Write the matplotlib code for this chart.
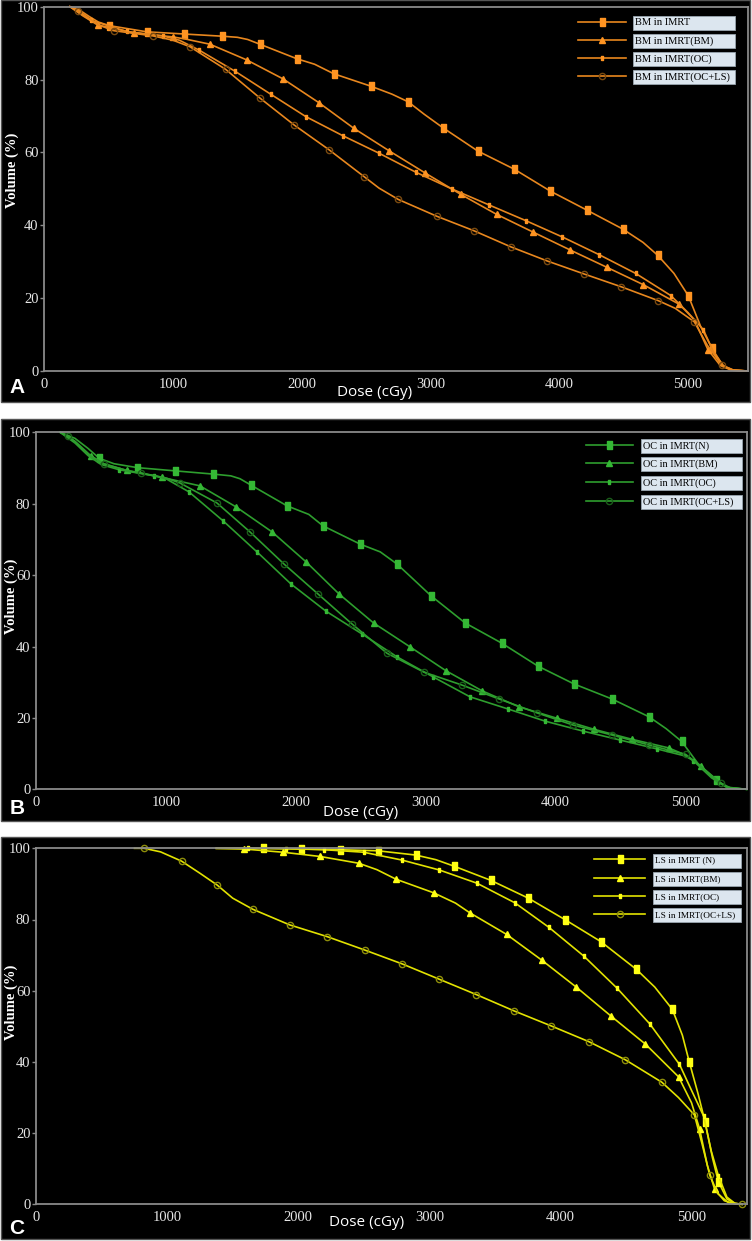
import matplotlib
matplotlib.use("Agg")
import matplotlib.pyplot as plt
from matplotlib.patches import Rectangle

W, H = 752, 1241

# ---------------- data (dose cGy, volume %) ----------------
# Panel A : bone marrow (BM)
A_N_dose = [200, 265, 350, 420, 506, 798, 1088, 1383, 1500, 1580, 1675, 1963, 2100, 2248, 2535, 2700, 2826, 2950, 3095, 3366, 3650, 3929, 4212, 4491, 4650, 4763, 4890, 5001, 5100, 5186, 5270, 5350, 5460]
A_N_vol = [100, 99.3, 97.3, 95.8, 94.8, 93.1, 92.5, 91.9, 91.6, 91.0, 89.7, 85.7, 84.2, 81.6, 78.2, 76.0, 73.9, 70.5, 66.8, 60.4, 55.4, 49.4, 44.2, 39.0, 35.3, 31.8, 26.8, 20.7, 12.0, 6.2, 1.5, 0.3, 0]
A_BM_dose = [200, 300, 414, 700, 1000, 1100, 1287, 1572, 1854, 2131, 2405, 2680, 2956, 3234, 3513, 3798, 4085, 4367, 4652, 4932, 5050, 5153, 5250, 5330, 5460]
A_BM_vol = [100, 97.5, 95.0, 92.8, 91.7, 91.1, 89.7, 85.4, 80.2, 73.7, 66.6, 60.4, 54.4, 48.5, 43.0, 38.1, 33.2, 28.5, 23.7, 18.3, 14.0, 5.9, 1.5, 0.3, 0]
A_OC_dose = [200, 360, 640, 920, 1050, 1202, 1481, 1758, 2033, 2318, 2599, 2884, 3164, 3453, 3738, 4023, 4311, 4592, 4866, 5000, 5119, 5200, 5280, 5350, 5460]
A_OC_vol = [100, 96.3, 93.2, 92.0, 90.8, 88.1, 82.3, 76.0, 69.8, 64.6, 59.8, 54.6, 50.0, 45.6, 41.3, 36.8, 31.9, 26.8, 20.7, 16.0, 11.3, 5.0, 1.2, 0.2, 0]
A_OCLS_dose = [200, 265, 350, 420, 542, 842, 1000, 1132, 1409, 1676, 1942, 2213, 2486, 2600, 2749, 3047, 3337, 3622, 3906, 4195, 4482, 4769, 4900, 5048, 5150, 5261, 5350, 5460]
A_OCLS_vol = [100, 98.9, 96.8, 95.0, 93.4, 92.0, 90.8, 89.0, 82.8, 74.9, 67.5, 60.7, 53.3, 50.2, 47.1, 42.5, 38.5, 34.1, 30.2, 26.6, 23.1, 19.3, 17.2, 13.5, 7.0, 1.6, 0.2, 0]

# Panel B : oral cavity (OC)
B_N_dose = [185, 300, 400, 488, 600, 780, 1070, 1363, 1500, 1570, 1655, 1932, 2100, 2209, 2494, 2650, 2779, 2900, 3041, 3303, 3587, 3864, 4142, 4434, 4719, 4850, 4970, 5100, 5237, 5320, 5470]
B_N_vol = [100, 98.3, 95.5, 92.7, 91.2, 90.1, 89.2, 88.3, 87.8, 87.0, 85.2, 79.4, 77.0, 73.8, 68.7, 66.5, 63.1, 59.0, 54.2, 46.6, 40.9, 34.5, 29.5, 25.3, 20.3, 17.0, 13.4, 7.0, 2.6, 0.6, 0]
B_BM_dose = [185, 300, 420, 520, 700, 967, 1262, 1540, 1817, 2079, 2333, 2598, 2879, 3156, 3433, 3718, 4010, 4296, 4588, 4870, 5000, 5120, 5230, 5320, 5470]
B_BM_vol = [100, 97.5, 93.5, 91.2, 89.3, 87.4, 85.0, 79.1, 72.1, 63.7, 54.7, 46.6, 39.9, 33.2, 27.6, 23.1, 19.9, 16.8, 14.0, 11.6, 9.6, 6.5, 2.5, 0.5, 0]
B_OC_dose = [185, 300, 400, 500, 640, 910, 1000, 1178, 1440, 1701, 1963, 2232, 2510, 2779, 3056, 3341, 3633, 3918, 4211, 4496, 4781, 5000, 5060, 5200, 5320, 5470]
B_OC_vol = [100, 97.0, 93.5, 91.0, 89.5, 87.8, 87.0, 83.3, 75.2, 66.5, 57.5, 49.9, 43.5, 37.1, 31.5, 25.9, 22.5, 19.1, 16.3, 13.8, 11.3, 9.3, 8.0, 3.2, 0.5, 0]
B_OCLS_dose = [185, 250, 300, 400, 520, 700, 810, 1000, 1108, 1393, 1647, 1909, 2171, 2433, 2702, 2987, 3279, 3564, 3857, 4134, 4434, 4719, 5000, 5100, 5270, 5350, 5470]
B_OCLS_vol = [100, 99.0, 97.3, 93.8, 91.2, 89.3, 88.6, 87.2, 85.8, 80.2, 72.1, 63.1, 54.7, 46.3, 38.1, 32.8, 29.2, 25.3, 21.4, 18.0, 15.2, 12.4, 9.8, 7.0, 1.8, 0.3, 0]

# Panel C : lumbosacral spine (LS)
C_N_dose = [1375, 1733, 2022, 2315, 2608, 2897, 3050, 3187, 3469, 3755, 4033, 4308, 4579, 4720, 4853, 4930, 4982, 5050, 5103, 5160, 5205, 5270, 5330, 5385]
C_N_vol = [100, 100, 99.8, 99.6, 99.3, 98.1, 96.8, 95.0, 91.0, 86.0, 80.0, 73.8, 66.0, 61.0, 54.8, 47.5, 40.1, 31.0, 23.2, 13.0, 6.3, 1.5, 0.2, 0]
C_BM_dose = [1375, 1586, 1883, 2168, 2462, 2600, 2747, 3033, 3200, 3308, 3590, 3857, 4121, 4385, 4648, 4901, 5000, 5062, 5120, 5176, 5250, 5330, 5385]
C_BM_vol = [100, 99.8, 98.9, 97.7, 95.8, 94.0, 91.3, 87.5, 84.6, 81.9, 75.8, 68.6, 61.0, 52.9, 45.0, 35.8, 28.5, 21.1, 11.0, 4.2, 1.0, 0.1, 0]
C_OC_dose = [1375, 1619, 1910, 2200, 2498, 2791, 3077, 3363, 3652, 3912, 4176, 4432, 4681, 4908, 5000, 5092, 5150, 5205, 5270, 5330, 5385]
C_OC_vol = [100, 100, 99.9, 99.6, 98.9, 96.7, 93.9, 90.2, 84.7, 77.8, 69.8, 60.7, 50.7, 39.3, 32.0, 24.8, 15.0, 8.0, 2.0, 0.3, 0]
C_OCLS_dose = [751, 824, 950, 1110, 1250, 1381, 1500, 1652, 1934, 2220, 2509, 2795, 3077, 3359, 3648, 3930, 4216, 4495, 4773, 4900, 5022, 5080, 5139, 5200, 5280, 5385]
C_OCLS_vol = [100, 100, 99.0, 96.4, 93.0, 89.7, 86.0, 82.9, 78.5, 75.2, 71.4, 67.5, 63.2, 58.9, 54.3, 50.1, 45.7, 40.6, 34.3, 30.0, 25.1, 17.0, 8.2, 3.0, 0.5, 0]

A_labels = ["BM in IMRT", "BM in IMRT(BM)", "BM in IMRT(OC)", "BM in IMRT(OC+LS)"]
B_labels = ["OC in IMRT(N)", "OC in IMRT(BM)", "OC in IMRT(OC)", "OC in IMRT(OC+LS)"]
C_labels = ["LS in IMRT (N)", "LS in IMRT(BM)", "LS in IMRT(OC)", "LS in IMRT(OC+LS)"]

x_ticks = [0, 1000, 2000, 3000, 4000, 5000]
y_ticks = [0, 20, 40, 60, 80, 100]
panel_letters = ["A", "B", "C"]

# ---------------- style / layout ----------------
SQ = [(-0.3, -0.5), (0.3, -0.5), (0.3, 0.5), (-0.3, 0.5), (-0.3, -0.5)]
BAR = [(-0.2, -0.5), (0.2, -0.5), (0.2, 0.5), (-0.2, 0.5), (-0.2, -0.5)]

panels = [
    dict(series=[(A_N_dose, A_N_vol, [4, 5, 6, 7, 10, 11, 13, 14, 16, 18, 19, 20, 21, 22, 23, 25, 27, 29]),
                 (A_BM_dose, A_BM_vol, [2, 3, 4, 6, 7, 8, 9, 10, 11, 12, 13, 14, 15, 16, 17, 18, 19, 21]),
                 (A_OC_dose, A_OC_vol, [1, 2, 3, 5, 6, 7, 8, 9, 10, 11, 12, 13, 14, 15, 16, 17, 18, 20]),
                 (A_OCLS_dose, A_OCLS_vol, [1, 4, 5, 7, 8, 9, 10, 11, 12, 14, 15, 16, 17, 18, 19, 20, 21, 23, 25])],
         labels=A_labels, box=(0, 402), ax=(44.2, 748, 6.7, 371), xmax=5465,
         line="#E8871E", mark="#FF9422", ring="#7A4A10",
         leg=(578, 18), legfs=7.6, hl=4.55, htp=0.85, ls=0.82, boxw=102,
         letter=(17, 388), xlab=(375, 393), ylab=(12, 170)),
    dict(series=[(B_N_dose, B_N_vol, [3, 5, 6, 7, 10, 11, 13, 14, 16, 18, 19, 20, 21, 22, 23, 24, 26, 28]),
                 (B_BM_dose, B_BM_vol, [2, 4, 5, 6, 7, 8, 9, 10, 11, 12, 13, 14, 15, 16, 17, 18, 19, 21]),
                 (B_OC_dose, B_OC_vol, [4, 5, 7, 8, 9, 10, 11, 12, 13, 14, 15, 16, 17, 18, 19, 20, 22]),
                 (B_OCLS_dose, B_OCLS_vol, [1, 4, 6, 8, 9, 10, 11, 12, 13, 14, 15, 16, 17, 18, 19, 20, 21, 22, 24])],
         labels=B_labels, box=(419, 821), ax=(36, 747, 432.3, 789.3), xmax=5473,
         line="#2E9E2E", mark="#35B835", ring="#1A5E1A",
         leg=(586, 441), legfs=7.4, hl=4.57, htp=0.97, ls=0.88, boxw=101,
         letter=(17, 809), xlab=(361, 812), ylab=(11, 596)),
    dict(series=[(C_N_dose, C_N_vol, [1, 2, 3, 4, 5, 7, 8, 9, 10, 11, 12, 14, 16, 18, 20]),
                 (C_BM_dose, C_BM_vol, [1, 2, 3, 4, 6, 7, 9, 10, 11, 12, 13, 14, 15, 17, 19]),
                 (C_OC_dose, C_OC_vol, [1, 2, 3, 4, 5, 6, 7, 8, 9, 10, 11, 12, 13, 15, 17]),
                 (C_OCLS_dose, C_OCLS_vol, [1, 3, 5, 7, 8, 9, 10, 11, 12, 13, 14, 15, 16, 17, 18, 20, 22, 25])],
         labels=C_labels, box=(837, 1239), ax=(36, 747, 848.3, 1204.3), xmax=5423,
         line="#E2E200", mark="#FFFF14", ring="#8E8E0A",
         leg=(594, 856), legfs=6.7, hl=5.5, htp=1.08, ls=1.05, boxw=88,
         letter=(17, 1228), xlab=(367, 1223), ylab=(11, 1002)),
]

def fx(x):
    return x / W

def fy(y):
    return 1 - y / H

fig = plt.figure(figsize=(W / 100, H / 100), dpi=100, facecolor="white")

legends = []
for i, p in enumerate(panels):
    t, b = p["box"]
    fig.patches.append(Rectangle((fx(0.5), fy(b)), fx(749), (b - t) / H, transform=fig.transFigure,
                                 facecolor="black", edgecolor="#555555", linewidth=1.0, zorder=-5))
    l, r, at, ab = p["ax"]
    ax = fig.add_axes([fx(l), fy(ab), (r - l) / W, (ab - at) / H])
    ax.set_facecolor("none")
    ax.set_xlim(0, p["xmax"])
    ax.set_ylim(0, 100)
    for s in ax.spines.values():
        s.set_color("#8a8a8a")
        s.set_linewidth(1.3)
    ax.set_xticks(x_ticks)
    ax.set_yticks(y_ticks)
    ax.tick_params(axis="x", length=0, pad=5, colors="#e6e6e6", labelsize=10.5)
    ax.tick_params(axis="y", length=3, width=1, pad=1, color="#8a8a8a", labelcolor="#e6e6e6", labelsize=10.5)
    for lab in ax.get_xticklabels() + ax.get_yticklabels():
        lab.set_fontfamily("Liberation Serif")

    styles = [dict(marker=SQ, markersize=6, markerfacecolor=p["mark"], markeredgecolor=p["mark"]),
              dict(marker="^", markersize=4.5, markerfacecolor=p["mark"], markeredgecolor=p["mark"]),
              dict(marker=BAR, markersize=3.5, markerfacecolor=p["mark"], markeredgecolor=p["mark"]),
              dict(marker="o", markersize=4.5, markerfacecolor="none", markeredgecolor=p["ring"], markeredgewidth=1.0)]
    handles = []
    for (d, v, mk), st, lab in zip(p["series"], styles, p["labels"]):
        ln, = ax.plot(d, v, color=p["line"], linewidth=1.2, markevery=mk, clip_on=False, label=lab, **st)
        handles.append(ln)

    leg = ax.legend(handles=handles, loc="upper left", bbox_to_anchor=(fx(p["leg"][0]), fy(p["leg"][1])),
                    bbox_transform=fig.transFigure, frameon=False, borderpad=0, borderaxespad=0,
                    handlelength=p["hl"], handletextpad=p["htp"], labelspacing=p["ls"],
                    prop=dict(family="Liberation Serif", size=p["legfs"]))
    for tx in leg.get_texts():
        tx.set_color("black")
    legends.append((leg, p))

    fig.text(fx(p["letter"][0]), fy(p["letter"][1]), panel_letters[i], color="white", fontsize=15,
             fontweight="bold", family="Liberation Sans", ha="center", va="center")
    fig.text(fx(p["xlab"][0]), fy(p["xlab"][1]), "Dose (cGy)", color="white", fontsize=11,
             family="Open Sans", ha="center", va="center")
    fig.text(fx(p["ylab"][0]), fy(p["ylab"][1]), "Volume (%)", color="white", fontsize=10.5,
             family="Liberation Serif", fontweight="bold", rotation=90, ha="center", va="center")

# light boxes behind legend texts
fig.canvas.draw()
for leg, p in legends:
    for tx in leg.get_texts():
        bb = tx.get_window_extent()
        cy = (bb.y0 + bb.y1) / 2
        x0 = bb.x0 - 2
        fig.patches.append(Rectangle((x0 / W, (cy - 7) / H), p["boxw"] / W, 14 / H, transform=fig.transFigure,
                                     facecolor="#DCE6EF", edgecolor="#9aa6b0", linewidth=0.6, zorder=-1))

fig.savefig("out.png", dpi=100, facecolor="white")
